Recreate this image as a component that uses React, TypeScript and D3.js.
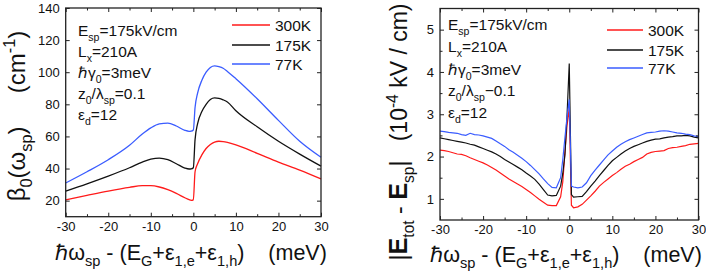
import React, { useEffect, useRef } from "react";
import * as d3 from "d3";

// left panel: beta0 vs detuning
const detuneL = [-30, -25, -20, -15, -12, -10, -8, -6, -4, -2, -1, -0.5, 0, 0.4, 1, 2, 3, 4, 5, 6, 7, 8, 10, 15, 20, 25, 30];
const beta300 = [20.5, 23.3, 26, 28.3, 29.3, 29.3, 28.5, 26.8, 24.5, 21.8, 20.6, 20.2, 20.5, 38, 43, 48.5, 52.5, 55, 56.5, 57, 56.8, 56.3, 54.8, 49.5, 44, 39, 33.5];
const beta175 = [26, 30.5, 35.3, 40.5, 44, 45.8, 46.5, 45.5, 43, 40.3, 39.7, 39.8, 40.5, 58, 68, 75.5, 80, 83, 84, 83.7, 82.8, 81.5, 76, 66, 57, 49, 41.5];
const beta77 = [31, 38, 45.5, 54.5, 61.5, 65.3, 67.8, 68.3, 66.5, 63.8, 63.2, 63.3, 64, 78, 87, 95, 100, 103, 104, 103.5, 102.5, 100.5, 96, 83.5, 70, 57, 47];

// right panel: |Etot - Esp|
const detuneR = [-30, -29, -28, -27, -26, -25, -24, -23, -22, -21, -20, -19, -18, -17, -16, -15, -14, -13, -12, -11, -10, -9, -8, -7, -6, -5, -4, -3, -2, -1.5, -1, -0.5, 0, 0.5, 1, 2, 3, 4, 5, 6, 7, 8, 9, 10, 11, 12, 13, 14, 15, 16, 17, 18, 19, 20, 21, 22, 23, 24, 25, 26, 27, 28, 29, 30];
const field300 = [2.15, 2.14, 2.12, 2.09, 2.06, 2.05, 2.02, 1.97, 1.93, 1.89, 1.85, 1.8, 1.74, 1.68, 1.61, 1.54, 1.47, 1.41, 1.35, 1.29, 1.22, 1.15, 1.07, 0.99, 0.92, 0.85, 0.84, 0.84, 1.05, 1.4, 2.1, 2.75, 3.15, 0.85, 0.79, 0.81, 0.87, 0.97, 1.07, 1.18, 1.3, 1.39, 1.47, 1.55, 1.62, 1.7, 1.77, 1.82, 1.88, 1.93, 1.98, 2.06, 2.1, 2.12, 2.13, 2.14, 2.19, 2.21, 2.22, 2.24, 2.26, 2.29, 2.3, 2.31];
const field175 = [2.44, 2.42, 2.4, 2.38, 2.36, 2.34, 2.32, 2.29, 2.27, 2.23, 2.19, 2.15, 2.11, 2.06, 2.0, 1.93, 1.87, 1.81, 1.75, 1.69, 1.61, 1.54, 1.46, 1.35, 1.22, 1.09, 1.07, 1.08, 1.3, 1.6, 2.05, 3.0, 4.2, 1.1, 1.04, 1.05, 1.06, 1.17, 1.3, 1.42, 1.55, 1.67, 1.79, 1.9, 1.98, 2.06, 2.13, 2.19, 2.24, 2.28, 2.32, 2.36, 2.39, 2.41, 2.42, 2.44, 2.46, 2.47, 2.49, 2.49, 2.5, 2.49, 2.46, 2.44];
const field77 = [2.6, 2.59, 2.57, 2.56, 2.55, 2.52, 2.5, 2.55, 2.52, 2.51, 2.49, 2.46, 2.43, 2.37, 2.3, 2.24, 2.16, 2.1, 2.03, 1.96, 1.88, 1.79, 1.69, 1.59, 1.47, 1.36, 1.27, 1.26, 1.5, 1.93, 2.45, 2.95, 3.35, 1.3, 1.28, 1.26, 1.28, 1.38, 1.55, 1.68, 1.8, 1.92, 2.04, 2.13, 2.22, 2.29, 2.35, 2.4, 2.44, 2.48, 2.52, 2.56, 2.57, 2.58, 2.6, 2.61, 2.6, 2.58, 2.56, 2.55, 2.53, 2.52, 2.49, 2.47];

const tempLabels = ["300K", "175K", "77K"];
const colors = ["#ff1a1a", "#111111", "#3a5cff"];

type Part = [string, string?];

// text with sub/superscripts as tspans
function rich(g: any, parts: Part[], size: number) {
  let off = 0;
  parts.forEach(([t, k]) => {
    const ts = g.append("tspan").text(t);
    let target = 0;
    if (k === "sub") target = size * 0.3;
    if (k === "sup") target = -size * 0.4;
    ts.attr("dy", target - off);
    off = target;
    if (k === "sub" || k === "sup") ts.attr("font-size", size * 0.68);
    if (k === "b") ts.attr("font-weight", "bold").attr("font-size", size * 1.1);
  });
}

function frame(g: any, x: any, y: any, yMajor: number[], yMinor: number[]) {
  const [x0, x1] = x.range();
  const [y0, y1] = y.range();
  const xMajor = [-30, -20, -10, 0, 10, 20, 30];
  const xMinor = [-25, -15, -5, 5, 15, 25];
  const fmt = (d: number) => (d < 0 ? "-" + Math.abs(d) : String(d));

  g.append("g").attr("transform", `translate(0,${y0})`)
    .call(d3.axisBottom(x).tickValues(xMajor).tickSize(-4).tickPadding(5).tickFormat(fmt as any))
    .call((a: any) => a.select(".domain").remove());
  g.append("g").attr("transform", `translate(0,${y0})`)
    .call(d3.axisBottom(x).tickValues(xMinor).tickSize(-2.5).tickFormat(() => ""))
    .call((a: any) => a.select(".domain").remove());
  g.append("g").attr("transform", `translate(0,${y1})`)
    .call(d3.axisTop(x).tickValues(xMajor).tickSize(-4).tickFormat(() => ""))
    .call((a: any) => a.select(".domain").remove());
  g.append("g").attr("transform", `translate(0,${y1})`)
    .call(d3.axisTop(x).tickValues(xMinor).tickSize(-2.5).tickFormat(() => ""))
    .call((a: any) => a.select(".domain").remove());
  g.append("g").attr("transform", `translate(${x0},0)`)
    .call(d3.axisLeft(y).tickValues(yMajor).tickSize(-4).tickPadding(6).tickFormat(d3.format("d") as any))
    .call((a: any) => a.select(".domain").remove());
  g.append("g").attr("transform", `translate(${x1},0)`)
    .call(d3.axisRight(y).tickValues(yMajor).tickSize(-4).tickFormat(() => ""))
    .call((a: any) => a.select(".domain").remove());
  if (yMinor.length) {
    g.append("g").attr("transform", `translate(${x0},0)`)
      .call(d3.axisLeft(y).tickValues(yMinor).tickSize(-2.5).tickFormat(() => ""))
      .call((a: any) => a.select(".domain").remove());
    g.append("g").attr("transform", `translate(${x1},0)`)
      .call(d3.axisRight(y).tickValues(yMinor).tickSize(-2.5).tickFormat(() => ""))
      .call((a: any) => a.select(".domain").remove());
  }
  g.selectAll(".tick line").attr("stroke", "#222").attr("stroke-width", 1);
  g.selectAll(".tick text").attr("font-size", 13).attr("fill", "#111")
    .attr("font-family", "Liberation Sans, Arial, sans-serif");

  g.append("rect").attr("x", x0).attr("y", y1).attr("width", x1 - x0).attr("height", y0 - y1)
    .attr("fill", "none").attr("stroke", "#222").attr("stroke-width", 1.3);
}

function notes(g: any, x: number, ys: number[], zLine: Part[]) {
  const lines: Part[][] = [
    [["E"], ["sp", "sub"], ["=175kV/cm"]],
    [["L"], ["x", "sub"], ["=210A"]],
    [["ℏγ"], ["0", "sub"], ["=3meV"]],
    zLine,
    [["ε"], ["d", "sub"], ["=12"]],
  ];
  lines.forEach((p, i) => {
    const t = g.append("text").attr("x", x).attr("y", ys[i]).attr("font-size", 15.5);
    rich(t, p, 15.5);
  });
}

function legend(g: any, x0: number, x1: number, tx: number, ys: number[]) {
  tempLabels.forEach((lab, i) => {
    g.append("line").attr("x1", x0).attr("x2", x1).attr("y1", ys[i]).attr("y2", ys[i])
      .attr("stroke", colors[i]).attr("stroke-width", 1.3);
    g.append("text").attr("x", tx).attr("y", ys[i] + 5.5).attr("font-size", 15.5).text(lab);
  });
}

const xTitle: Part[] = [["ℏω"], ["sp", "sub"], [" - (E"], ["G", "sub"], ["+ε"], ["1,e", "sub"], ["+ε"], ["1,h", "sub"], [")    (meV)"]];

export default function App() {
  const ref = useRef<SVGSVGElement | null>(null);

  useEffect(() => {
    if (!ref.current) return;
    const svg = d3.select(ref.current);
    svg.selectAll("*").remove();
    const root = svg.append("g").attr("font-family", "Liberation Sans, Arial, sans-serif").attr("fill", "#111");

    // ---- left panel
    const xL = d3.scaleLinear().domain([-30, 30]).range([65.7, 321]);
    const yL = d3.scaleLinear().domain([10, 140]).range([216.7, 8]);
    const gL = root.append("g");
    [beta300, beta175, beta77].forEach((vals, i) => {
      const line = d3.line<number>().x((_, j) => xL(detuneL[j])).y(d => yL(d)).curve(d3.curveMonotoneX);
      gL.append("path").attr("d", line(vals)).attr("fill", "none").attr("stroke", colors[i]).attr("stroke-width", 1.3);
    });
    frame(gL, xL, yL, [20, 40, 60, 80, 100, 120, 140], []);
    notes(gL, 78, [36, 57, 78, 99, 120], [["z"], ["0", "sub"], ["/λ"], ["sp", "sub"], ["=0.1"]]);
    legend(gL, 232, 270, 275, [25, 45, 64]);
    const tL = gL.append("text").attr("x", 191).attr("y", 260).attr("text-anchor", "middle")
      .attr("font-size", 21.5).style("white-space", "pre");
    rich(tL, xTitle, 21.5);
    const yLab = gL.append("text").attr("transform", "translate(25,116) rotate(-90)")
      .attr("text-anchor", "middle").attr("font-size", 24).style("white-space", "pre");
    rich(yLab, [["β"], ["0", "sub"], ["(ω"], ["sp", "sub"], [")     (cm"], ["-1", "sup"], [")"]], 24);

    // ---- right panel
    const xR = d3.scaleLinear().domain([-30, 30]).range([440, 698.5]);
    const yR = d3.scaleLinear().domain([0.5, 5.5]).range([220, 8.5]);
    const gR = root.append("g");
    [field300, field175, field77].forEach((vals, i) => {
      const line = d3.line<number>().x((_, j) => xR(detuneR[j])).y(d => yR(d));
      gR.append("path").attr("d", line(vals)).attr("fill", "none").attr("stroke", colors[i]).attr("stroke-width", 1.2);
    });
    frame(gR, xR, yR, [1, 2, 3, 4, 5], [1.5, 2.5, 3.5, 4.5]);
    notes(gR, 448, [30, 52, 75, 96, 118], [["z"], ["0", "sub"], ["/λ"], ["sp", "sub"], ["−0.1"]]);
    legend(gR, 607, 643, 648, [30, 50, 68]);
    const tR = gR.append("text").attr("x", 566).attr("y", 262).attr("text-anchor", "middle")
      .attr("font-size", 21.5).style("white-space", "pre");
    rich(tR, xTitle, 21.5);
    const yLabR = gR.append("text").attr("transform", "translate(407,132) rotate(-90)")
      .attr("text-anchor", "middle").attr("font-size", 23).style("white-space", "pre");
    rich(yLabR, [["|"], ["E", "b"], ["tot", "sub"], [" - "], ["E", "b"], ["sp", "sub"], ["|   (10"], ["-4", "sup"], [" kV / cm)"]], 23);
  }, []);

  return (
    <svg ref={ref} width={706} height={277}
      style={{ position: "absolute", left: 0, top: 0, background: "#fff" }} />
  );
}
